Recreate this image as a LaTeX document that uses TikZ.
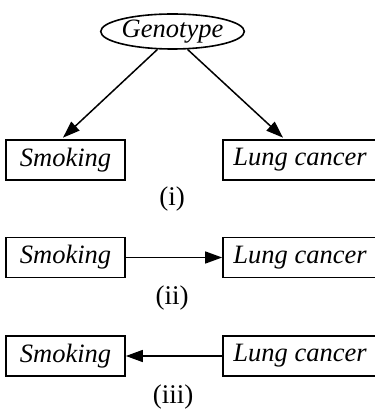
\documentclass[tikz,border=0pt]{standalone}
\usepackage{fontspec}
\setmainfont{Liberation Serif}
\usetikzlibrary{arrows.meta,shapes.geometric}
\begin{document}
\begin{tikzpicture}[x=1pt,y=-1pt,
  box/.style={draw,line width=1.7pt,rectangle,minimum height=40pt,inner sep=0pt,font=\fontsize{26.5}{30}\selectfont\itshape},
  oval/.style={draw,line width=1.6pt,ellipse,minimum width=125pt,minimum height=35pt,inner sep=0pt,font=\fontsize{26.5}{30}\selectfont\itshape},
  lab/.style={inner sep=0pt,font=\fontsize{27}{30}\selectfont},
  conn/.style={line width=1.5pt,-{Triangle[length=17pt,width=12pt]}}]
\useasboundingbox (0,0) rectangle (374,411);
\node[oval] (geno) at (172.5,31.5) {Genotype};
\node[box,minimum width=119pt] (s1) at (65.5,160) {Smoking};
\node[box,minimum width=154pt] (l1) at (300,160) {Lung cancer};
\node[lab] (c1) at (172,199) {(i)};
\draw[conn] (geno.230) -- ([xshift=-2.5pt,yshift=1.5pt]s1.north);
\draw[conn] (geno.310) -- ([xshift=-17pt,yshift=1.5pt]l1.north);
\node[box,minimum width=119pt] (s2) at (65.5,257.5) {Smoking};
\node[box,minimum width=154pt] (l2) at (300,257.5) {Lung cancer};
\node[lab] (c2) at (172,298) {(ii)};
\draw[conn] (s2.east) -- (l2.west);
\node[box,minimum width=119pt] (s3) at (65.5,356) {Smoking};
\node[box,minimum width=154pt] (l3) at (300,356) {Lung cancer};
\node[lab] (c3) at (173,397) {(iii)};
\draw[conn] (l3.west) -- (s3.east);
\end{tikzpicture}
\end{document}
